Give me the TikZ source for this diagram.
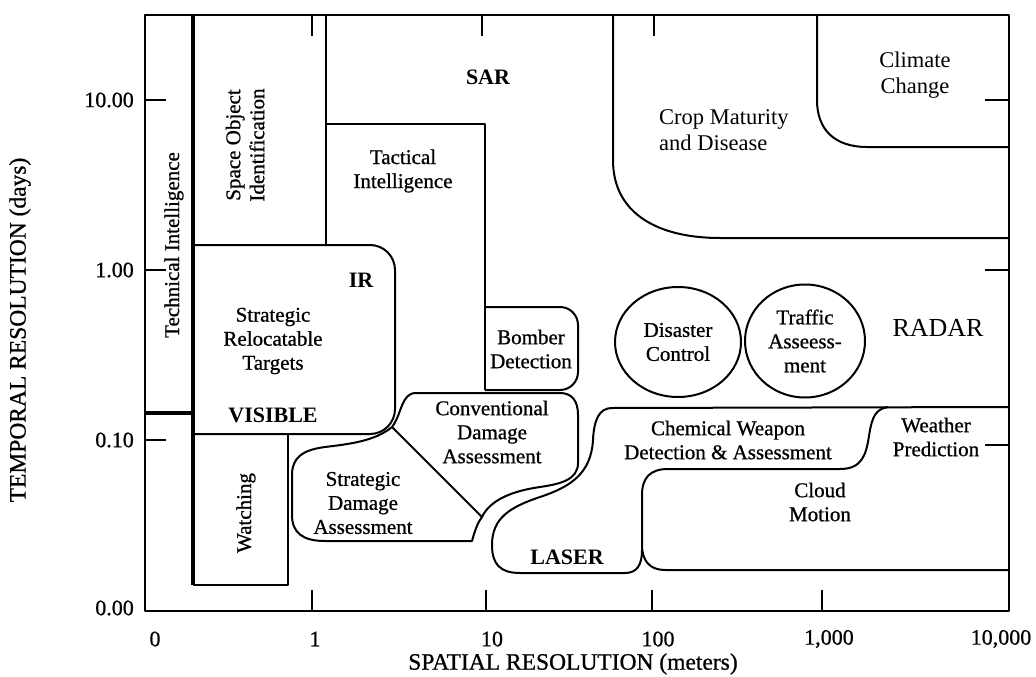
\documentclass[tikz,border=0pt]{standalone}
\usepackage{fontspec}
\setmainfont{Liberation Serif}
\newfontfamily\inkfont{Liberation Serif}[FakeBold=0.8]
\usetikzlibrary{shapes.geometric}
\tikzset{
  region/.style={draw=black, line width=2pt, line join=round},
  heavy/.style={draw=black, line width=4pt},
  lbl/.style={font=\inkfont\fontsize{21}{24}\selectfont, align=center, inner sep=0pt},
  vlbl/.style={lbl, rotate=90},
  wide/.style={lbl, font=\fontsize{22.5}{26}\selectfont},
  band/.style={font=\bfseries\fontsize{22}{26}\selectfont, inner sep=0pt},
  num/.style={font=\inkfont\fontsize{22}{26}\selectfont, inner sep=0pt},
  axtitle/.style={font=\inkfont\fontsize{23.5}{28}\selectfont, inner sep=0pt},
  blob/.style={region, ellipse, align=center, inner sep=0pt,
    font=\inkfont\fontsize{21}{24}\selectfont}
}

\begin{document}
\begin{tikzpicture}[x=1pt, y=-1pt]
  \useasboundingbox (0,0) rectangle (1036,677);

  % frame and ticks
  \draw[region] (145,15) rectangle (1009,611);
  \foreach \y in {100,270,440} \draw[region] (145,\y) -- (166,\y);
  \foreach \y in {100,270,445} \draw[region] (985,\y) -- (1009,\y);
  \foreach \x in {312,486,652,822} \draw[region] (\x,590) -- (\x,611);
  \foreach \x in {312,482,654} \draw[region] (\x,15) -- (\x,36);

  % axis numbers
  \foreach \x/\txt in {155/0, 315/1, 492/10, 658/100, 829/{1,000}, 1001/{10,000}}
    \node[num] (xlab\x) at (\x,639) {\txt};
  \foreach \y/\txt in {100/10.00, 270/1.00, 440/0.10, 608/0.00}
    \node[num, anchor=east] (ylab\y) at (134,\y) {\txt};
  \node[axtitle] (xtitle) at (573,664) {SPATIAL RESOLUTION (meters)};
  \node[axtitle, rotate=90] (ytitle) at (20,330) {TEMPORAL RESOLUTION (days)};

  % left column
  \draw[heavy] (193,15) -- (193,585);
  \draw[heavy] (145,413) -- (193,413);
  \draw[region] (193,245) -- (326,245) -- (326,15);
  \draw[region] (326,124) -- (485,124) -- (485,390);
  \draw[region, rounded corners=18] (485,307) -- (578,307) -- (578,390) -- (485,390);
  \draw[region, rounded corners=25] (193,245) -- (395,245) -- (395,434) -- (193,434);
  \draw[region] (288,434) -- (288,585) -- (193,585);

  % damage assessment
  \draw[region] (392,427) .. controls (375,441) and (350,444) .. (325,447)
    .. controls (302,450) and (292,458) .. (292,475) -- (292,515)
    .. controls (292,533) and (303,541) .. (325,541) -- (472,541)
    .. controls (475,530) and (478,522) .. (482,517);
  \draw[region] (392,427) .. controls (402,414) and (401,393) .. (416,393) -- (560,393)
    .. controls (572,393) and (578,401) .. (578,415) -- (578,463)
    .. controls (578,480) and (560,484) .. (540,487)
    .. controls (512,491) and (490,500) .. (482,517);
  \draw[region] (392,427) -- (482,517);

  % laser, chemical, cloud, weather
  \draw[region] (1009,407) -- (612,408) .. controls (599,408) and (594,420) .. (593,440)
    .. controls (591,474) and (570,487) .. (540,497)
    .. controls (510,507) and (492,518) .. (492,545)
    .. controls (492,564) and (500,573) .. (520,573) -- (625,573)
    .. controls (637,573) and (642,565) .. (642,550);
  \draw[region] (1009,570) -- (665,570) .. controls (650,570) and (642,561) .. (642,545)
    -- (642,495) .. controls (642,478) and (650,469) .. (668,469) -- (840,469)
    .. controls (862,469) and (866,455) .. (869,436)
    .. controls (872,416) and (876,409) .. (888,407);

  % crop and climate
  \draw[region] (613,15) -- (613,160) .. controls (613,215) and (660,238) .. (720,238) -- (1009,238);
  \draw[region] (817,15) -- (817,100) .. controls (817,130) and (835,147) .. (867,147) -- (1009,147);

  % labels
  \node[vlbl] (techint) at (174,245) {Technical Intelligence};
  \node[vlbl] (spaceobj) at (245,145) {Space Object\\Identification};
  \node[vlbl] (watching) at (246,513) {Watching};
  \node[band] (sar) at (488,77) {SAR};
  \node[lbl] (tactical) at (403,171) {Tactical\\Intelligence};
  \node[band] (ir) at (361,280) {IR};
  \node[lbl] (reloc) at (273,341) {Strategic\\Relocatable\\Targets};
  \node[band] (visible) at (273,415) {VISIBLE};
  \node[lbl] (bomber) at (531,349) {Bomber\\Detection};
  \node[lbl] (convdmg) at (492,432) {Conventional\\Damage\\Assessment};
  \node[lbl] (stratdmg) at (363,503) {Strategic\\Damage\\Assessment};
  \node[band] (laser) at (567,557) {LASER};
  \node[lbl] (chemical) at (728,440) {Chemical Weapon\\Detection \& Assessment};
  \node[lbl] (weather) at (936,437) {Weather\\Prediction};
  \node[lbl] (cloud) at (820,502) {Cloud\\Motion};
  \node[lbl, font=\fontsize{26}{30}\selectfont] (radar) at (938,328) {RADAR};
  \node[blob, minimum width=126pt, minimum height=110pt] (disaster) at (678,342) {Disaster\\Control};
  \node[blob, minimum width=120pt, minimum height=113pt] (traffic) at (805,341) {Traffic\\Asseess-\\ment};
  \node[wide, align=left, anchor=west] (crop) at (659,130) {Crop Maturity\\and Disease};
  \node[wide] (climate) at (915,75) {Climate\\Change};
\end{tikzpicture}
\end{document}
